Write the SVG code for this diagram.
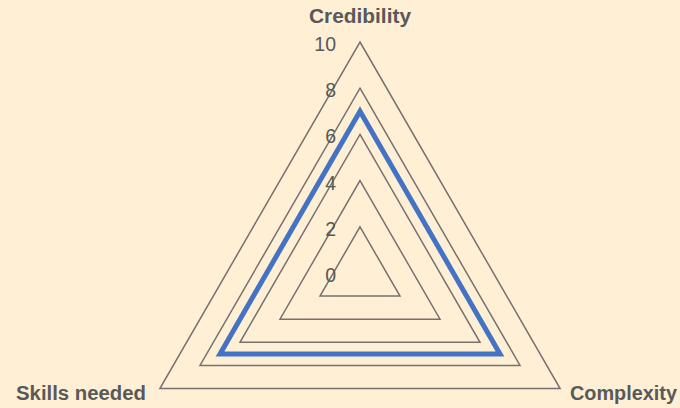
<svg xmlns="http://www.w3.org/2000/svg" width="680" height="408" viewBox="0 0 680 408">
<style>
.grid{fill:none;stroke:#767171;stroke-width:1.5;stroke-linejoin:miter}
.series{fill:none;stroke:#4472C4;stroke-width:5;stroke-linejoin:miter}
.tick{font-family:"Liberation Sans",Arial,sans-serif;font-size:19.5px;fill:#595959;text-anchor:end}
.cat{font-family:"Liberation Sans",Arial,sans-serif;font-size:20px;font-weight:bold;fill:#595959}
</style>
<rect width="680" height="408" fill="#FFEFD4"/>
<g id="grid">
<polygon class="grid" points="360,42 560.1,388.5 159.9,388.5"/>
<polygon class="grid" points="360,88.2 520,365.4 200,365.4"/>
<polygon class="grid" points="360,134.4 480,342.3 240,342.3"/>
<polygon class="grid" points="360,180.6 440,319.2 280,319.2"/>
<polygon class="grid" points="360,226.8 400,296.1 320,296.1"/>
</g>
<g id="ticks">
<text class="tick" x="336" y="51">10</text>
<text class="tick" x="336" y="97">8</text>
<text class="tick" x="336" y="143">6</text>
<text class="tick" x="336" y="190">4</text>
<text class="tick" x="336" y="236">2</text>
<text class="tick" x="336" y="282">0</text>
</g>
<g id="series">
<polygon class="series" points="360,111.3 500,353.9 220,353.9"/>
</g>
<g id="node-credibility"><text class="cat" x="309" y="23" textLength="102" lengthAdjust="spacingAndGlyphs">Credibility</text></g>
<g id="node-skills"><text class="cat" x="16" y="400" textLength="130" lengthAdjust="spacingAndGlyphs">Skills needed</text></g>
<g id="node-complexity"><text class="cat" x="570" y="400" textLength="107" lengthAdjust="spacingAndGlyphs">Complexity</text></g>
</svg>
